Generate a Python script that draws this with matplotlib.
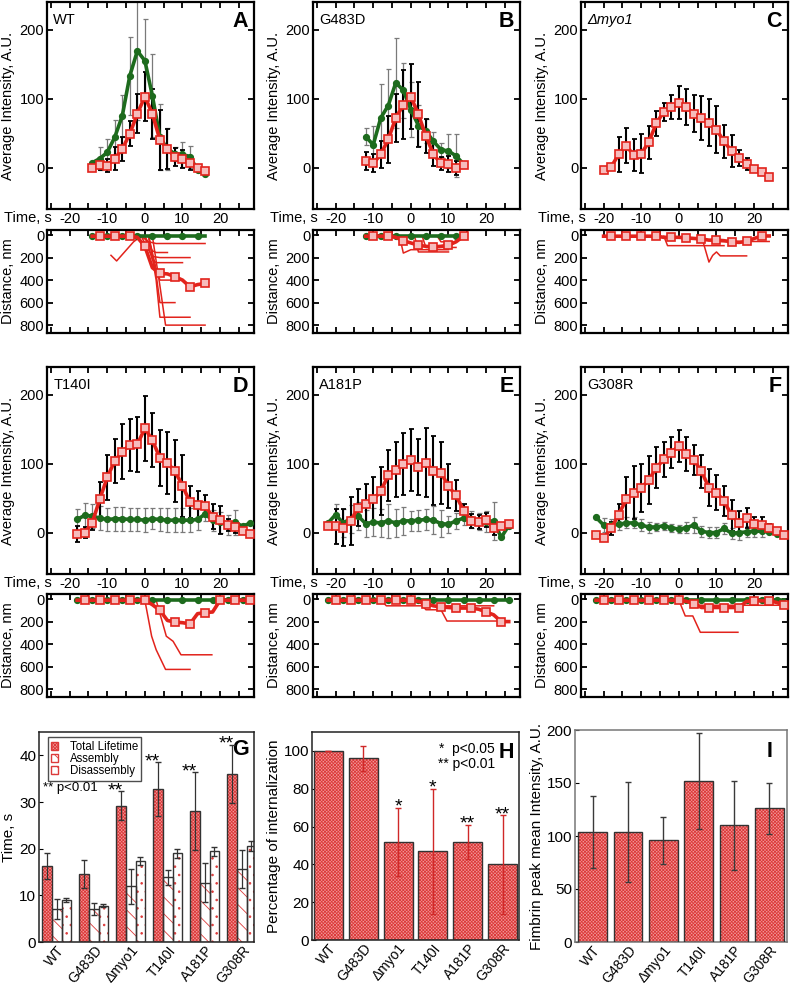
import numpy as np
import matplotlib
matplotlib.use('Agg')
import matplotlib.pyplot as plt
from matplotlib.ticker import MultipleLocator, FuncFormatter
from matplotlib.patches import Patch

plt.rcParams['font.family'] = ['Liberation Sans', 'DejaVu Sans']
plt.rcParams['font.size'] = 10
plt.rcParams['axes.unicode_minus'] = False
plt.rcParams['axes.linewidth'] = 1.6
plt.rcParams['hatch.linewidth'] = 0.6

GREEN = '#1d6b1d'
RED = '#e2231c'
PINK = '#f29898'
HATCH_RED = '#dc3a3a'

# ---------------- intensity traces (time in s, intensity in A.U.) ----------------
wt_t = [-14, -12, -10, -8, -6, -4, -2, 0, 2, 4, 6, 8, 10, 12, 14, 16]
wt_red = [-1, 4, 3, 13, 27, 49, 78, 103, 78, 40, 27, 15, 13, 6, -1, -5]
wt_red_err = [0, 8, 10, 17, 18, 18, 28, 35, 36, 44, 29, 13, 13, 10, 0, 0]
wt_grn = [7, 13, 22, 44, 75, 133, 169, 155, 104, 44, 27, 20, 19, 16, -4, -9]
wt_grn_err = [0, 17, 19, 25, 30, 57, 100, 60, 60, 48, 30, 10, 18, 16, 0, 0]

b_t = [-12, -10, -8, -6, -4, -2, 0, 2, 4, 6, 8, 10, 12, 14]
b_red = [9, 6, 19, 41, 72, 91, 103, 77, 46, 19, 6, 5, 0, 4]
b_red_err = [13, 13, 19, 34, 35, 50, 47, 47, 25, 16, 10, 12, 10, 0]
b_grn = [45, 33, 72, 90, 123, 112, 84, 61, 53, 38, 26, 24, 17, 5]
b_grn_err = [12, 27, 49, 53, 65, 40, 40, 30, 18, 13, 10, 24, 31, 0]

c_t = [-20, -18, -16, -14, -12, -10, -8, -6, -4, -2, 0, 2, 4, 6, 8, 10, 12, 14, 16, 18, 20, 22, 24]
c_red = [-3, 1, 19, 32, 18, 20, 37, 64, 81, 88, 94, 88, 78, 72, 65, 55, 38, 24, 14, 5, -2, -7, -14]
c_red_err = [0, 0, 26, 25, 23, 28, 24, 18, 13, 17, 24, 26, 27, 32, 34, 34, 24, 23, 11, 9, 0, 0, 0]

d_t = [-18, -16, -14, -12, -10, -8, -6, -4, -2, 0, 2, 4, 6, 8, 10, 12, 14, 16, 18, 20, 22, 24, 26, 28]
d_red = [-2, 0, 14, 48, 80, 104, 117, 127, 128, 151, 134, 108, 101, 89, 68, 44, 40, 39, 23, 18, 11, 8, 2, -2]
d_red_err = [12, 8, 10, 25, 33, 32, 40, 37, 40, 47, 39, 40, 45, 45, 45, 23, 20, 15, 18, 20, 8, 8, 0, 0]
d_grn = [19, 25, 24, 21, 19, 20, 20, 19, 19, 18, 20, 19, 18, 18, 18, 18, 19, 27, 18, 15, 11, 15, 9, 14]
d_grn_err = [15, 18, 17, 17, 17, 17, 17, 17, 17, 17, 15, 17, 17, 17, 17, 17, 15, 10, 15, 15, 15, 18, 0, 0]

e_t = [-22, -20, -18, -16, -14, -12, -10, -8, -6, -4, -2, 0, 2, 4, 6, 8, 10, 12, 14, 16, 18, 20, 22, 24, 26]
e_red = [10, 9, 7, 17, 36, 41, 48, 60, 83, 91, 100, 105, 95, 101, 90, 87, 67, 54, 32, 17, 15, 18, 7, 9, 13]
e_red_err = [0, 25, 27, 35, 27, 30, 33, 35, 37, 40, 45, 45, 40, 50, 50, 45, 32, 22, 10, 10, 10, 10, 10, 0, 0]
e_grn = [14, 26, 14, 20, 24, 13, 15, 14, 17, 14, 17, 17, 18, 19, 18, 13, 12, 17, 21, 19, 16, 16, 17, -7, 10]
e_grn_err = [0, 15, 20, 20, 20, 20, 20, 20, 25, 20, 20, 15, 15, 15, 20, 20, 12, 12, 10, 12, 12, 15, 28, 0, 0]

f_t = [-22, -20, -18, -16, -14, -12, -10, -8, -6, -4, -2, 0, 2, 4, 6, 8, 10, 12, 14, 16, 18, 20, 22, 24, 26, 28]
f_red = [-3, -8, 6, 26, 48, 58, 65, 76, 94, 106, 116, 126, 114, 105, 89, 65, 58, 46, 25, 14, 21, 13, 11, 6, 2, -3]
f_red_err = [0, 0, 10, 15, 32, 38, 35, 35, 30, 25, 22, 23, 25, 22, 24, 27, 25, 22, 22, 18, 15, 10, 12, 6, 0, 0]
f_grn = [22, 11, 11, 12, 14, 14, 11, 8, 8, 10, 7, 5, 7, 11, 2, 0, 0, 6, -1, 0, 1, 2, 2, 1, -2, -3]
f_grn_err = [0, 10, 8, 8, 8, 8, 8, 8, 6, 6, 6, 6, 8, 12, 8, 8, 8, 8, 8, 10, 8, 8, 8, 0, 0, 0]

# ---------------- distance traces (nm) ----------------
wt_grn_d = [10, 10, 10, 10, 10, 10, 10, 10, 10, 10, 10, 10, 10, 10, 10, 10]
wt_red_d = [10, 10, 10, 10, 10, 10, 20, 100, 290, 340, 345, 370, 400, 460, 440, 430]
wt_thin = [([-1, 1, 3, 16], [10, 60, 75, 75]),
           ([0, 2, 3, 6], [10, 140, 155, 155]),
           ([-1, 2, 4, 12], [10, 190, 200, 200]),
           ([0, 2, 3, 10], [10, 220, 245, 245]),
           ([-9, -7.5, -3, -1], [180, 230, 60, 10]),
           ([1, 3, 4, 8], [10, 300, 400, 400]),
           ([1, 3, 4, 8], [10, 350, 600, 600]),
           ([1, 3, 4, 12], [10, 400, 730, 730]),
           ([2, 4, 5.5, 16], [10, 450, 800, 800])]

b_grn_d = [10, 10, 10, 10, 10, 10, 10, 10, 10, 10, 10, 10, 10, 10]
b_red_d = [10, 10, 10, 10, 20, 50, 70, 90, 100, 105, 100, 90, 60, 10]
b_thin = [([-3, -2, 0, 10], [10, 160, 130, 130]),
          ([1, 2, 10], [10, 150, 150]),
          ([3, 4, 12], [10, 110, 110]),
          ([7, 8, 11], [10, 60, 60])]

c_red_d = [10, 10, 10, 10, 10, 10, 10, 10, 20, 20, 20, 25, 30, 35, 45, 45, 50, 60, 65, 57, 30, 8, 8]
c_thin = [([-4, -3, 12], [10, 94, 94]),
          ([6, 8, 9, 10, 11, 18], [10, 240, 180, 150, 185, 185]),
          ([9, 10, 24], [10, 57, 57])]

d_grn_d = [10, 10, 10, 10, 10, 10, 10, 10, 10, 10, 10, 10, 10, 10, 10, 10, 10, 10, 10, 10, 10, 10, 10, 10]
d_red_d = [10, 10, 10, 10, 10, 10, 10, 10, 10, 10, 50, 100, 190, 205, 210, 220, 130, 120, 115, 10, 10, 10, 10, 10]
d_thin = [([0, 1.8, 3, 5.5, 12], [10, 330, 450, 625, 625]),
          ([3, 5.7, 7.5, 9.6, 17.8], [10, 330, 375, 495, 495])]

e_grn_d = [10, 10, 10, 10, 10, 10, 10, 10, 10, 10, 10, 10, 10, 10, 10, 10, 10, 10, 10, 10, 10, 10, 10, 10, 10]
e_red_d = [10, 10, 10, 10, 10, 10, 10, 10, 10, 10, 10, 10, 20, 40, 60, 70, 75, 80, 80, 80, 90, 115, 140, 200, 200]
e_thin = [([-8, -6.5, 4, 22], [10, 60, 60, 60]),
          ([2, 4, 8, 9.6, 25.7], [10, 95, 95, 195, 195])]

f_grn_d = [10, 10, 10, 10, 10, 10, 10, 10, 10, 10, 10, 10, 10, 10, 10, 10, 10, 10, 10, 10, 10, 10, 10, 10, 10, 10]
f_red_d = [10, 10, 10, 10, 10, 10, 10, 10, 10, 10, 10, 10, 20, 40, 75, 75, 75, 75, 75, 75, 20, 15, 15, 15, 30, 55]
f_thin = [([0, 1.7, 3.7, 5.7, 15.7], [10, 150, 150, 295, 295]),
          ([4, 5, 28], [10, 55, 55])]

# ---------------- bar charts ----------------
strains = ['WT', 'G483D', 'Δmyo1', 'T140I', 'A181P', 'G308R']
life_total = [16.3, 14.5, 29.2, 32.8, 28.1, 36.0]
life_total_err = [2.8, 3.0, 3.1, 5.8, 8.3, 6.3]
life_asm = [7.1, 7.0, 11.9, 13.9, 12.7, 15.6]
life_asm_err = [2.1, 1.3, 3.7, 1.6, 4.2, 4.1]
life_dis = [9.0, 7.8, 17.4, 19.0, 19.4, 20.6]
life_dis_err = [0.5, 0.4, 0.8, 0.9, 1.0, 1.0]
life_stars = ['', '', '**', '**', '**', '**']

intern = [100, 96, 52, 47, 52, 40]
intern_err = [0, 6.6, 18, 33, 9, 26]
intern_stars = ['', '', '*', '*', '**', '**']

fim_peak = [104, 104, 96, 152, 110, 126]
fim_peak_err = [34, 47, 22, 45, 42, 24]

W, H = 792, 986
fig = plt.figure(figsize=(W / 100, H / 100), dpi=100)


def box(l, t, r, b):
    return fig.add_axes([l / W, 1 - b / H, (r - l) / W, (b - t) / H])


def time_axis(ax, labels=True):
    ax.set_xlim(-26, 29)
    ax.xaxis.set_major_locator(MultipleLocator(5))
    ax.xaxis.set_major_formatter(FuncFormatter(lambda v, p: '%d' % v if v % 10 == 0 else ''))
    ax.tick_params(direction='in', top=True, right=True, length=4, width=1.3,
                   labelsize=10.5, pad=2, labelbottom=labels)


def intensity_panel(ax, t, red, red_err, grn=None, grn_err=None, name='', letter='', italic=False):
    if grn is not None:
        ax.errorbar(t, grn, yerr=grn_err, fmt='none', ecolor='#7a7a7a', elinewidth=0.9,
                    capsize=1.8, capthick=0.9, zorder=1)
    ax.errorbar(t, red, yerr=red_err, fmt='none', ecolor='black', elinewidth=1.5,
                capsize=1.8, capthick=1.3, zorder=2)
    if grn is not None:
        ax.plot(t, grn, color=GREEN, lw=2.6, marker='o', ms=4.2, zorder=3)
    ax.plot(t, red, color=RED, lw=2.6, marker='s', ms=5.2, mfc='#f6bcbc', mec=RED, mew=1.2, zorder=4)
    time_axis(ax)
    ax.set_ylim(-60, 240)
    ax.set_yticks([0, 100, 200])
    ax.set_ylabel('Average Intensity, A.U.', fontsize=10.5, labelpad=3)
    ax.text(0.03, 0.945, name, transform=ax.transAxes, ha='left', va='top', fontsize=10.5,
            fontstyle='italic' if italic else 'normal')
    ax.text(0.97, 0.955, letter, transform=ax.transAxes, ha='right', va='top', fontsize=15.5,
            fontweight='bold')
    ax.text(0.025, -0.045, 'Time, s', transform=ax.transAxes, ha='right', va='center', fontsize=10.5)


def distance_panel(ax, rt, rd, thin, gt=None, gd=None):
    for tt, dd in thin:
        ax.plot(tt, dd, color=RED, lw=1.1, zorder=2)
    if gt is not None:
        ax.plot(gt, gd, color=GREEN, lw=2.6, marker='o', ms=4.2, markevery=(0, 2), zorder=3)
    ax.plot(rt, rd, color=RED, lw=2.6, marker='s', ms=5.2, mfc='#f6bcbc', mec=RED, mew=1.2,
            markevery=(1, 2), zorder=4)
    time_axis(ax, labels=False)
    ax.set_ylim(870, -45)
    ax.set_yticks([0, 200, 400, 600, 800])
    ax.set_ylabel('Distance, nm', fontsize=10.5, labelpad=3)


cols = [47, 313, 581]
rows = [2, 367]
drows = [230, 594]
PW, PH, DH = 207, 207, 103

panels = [
    (0, 0, wt_t, wt_red, wt_red_err, wt_grn, wt_grn_err, 'WT', 'A', False, wt_red_d, wt_thin, wt_grn_d),
    (1, 0, b_t, b_red, b_red_err, b_grn, b_grn_err, 'G483D', 'B', False, b_red_d, b_thin, b_grn_d),
    (2, 0, c_t, c_red, c_red_err, None, None, 'Δmyo1', 'C', True, c_red_d, c_thin, None),
    (0, 1, d_t, d_red, d_red_err, d_grn, d_grn_err, 'T140I', 'D', False, d_red_d, d_thin, d_grn_d),
    (1, 1, e_t, e_red, e_red_err, e_grn, e_grn_err, 'A181P', 'E', False, e_red_d, e_thin, e_grn_d),
    (2, 1, f_t, f_red, f_red_err, f_grn, f_grn_err, 'G308R', 'F', False, f_red_d, f_thin, f_grn_d),
]
for ci, ri, t, r, re, g, ge, name, let, it, rdist, thin, gdist in panels:
    l = cols[ci]
    ax = box(l, rows[ri], l + PW, rows[ri] + PH)
    intensity_panel(ax, t, r, re, g, ge, name, let, it)
    axd = box(l, drows[ri], l + PW, drows[ri] + DH)
    distance_panel(axd, t, rdist, thin, t if g is not None else None, gdist)


def hatched_bars(ax, x, h, w, face, hatch, hcolor, edge='#333333'):
    ax.bar(x, h, w, color=face, hatch=hatch, edgecolor=hcolor, lw=0, zorder=2)
    ax.bar(x, h, w, fill=False, edgecolor=edge, lw=1.0, zorder=3)


def stars(ax, xs, tops, labels, dx=0):
    for xx, top, s in zip(xs, tops, labels):
        if s:
            ax.annotate(s, (xx, top), xytext=(dx, -3), textcoords='offset points',
                        ha='center', va='baseline', fontsize=14)


def bar_axis(ax, ylabel, ylim, yticks, spine_color='#222222'):
    ax.set_ylim(*ylim)
    ax.set_yticks(yticks)
    ax.set_xticks(range(len(strains)))
    ax.set_xticklabels(strains, rotation=50, ha='right', rotation_mode='anchor', fontsize=10)
    ax.tick_params(axis='x', length=0, pad=1)
    ax.tick_params(axis='y', direction='in', length=3, labelsize=11, pad=2)
    ax.set_ylabel(ylabel, fontsize=11, labelpad=2)
    for s in ax.spines.values():
        s.set_linewidth(1.1)
        s.set_color(spine_color)


x = np.arange(len(strains))
TOTAL_HATCH = 'xxxxxxxxxx'

# G: lifetimes
axg = box(39, 732, 254, 942)
bw = 0.26
hatched_bars(axg, x - bw, life_total, bw, PINK, TOTAL_HATCH, HATCH_RED)
hatched_bars(axg, x, life_asm, bw, 'white', '\\\\', HATCH_RED)
hatched_bars(axg, x + bw, life_dis, bw, 'white', '..', HATCH_RED)
for xx, v, e in [(x - bw, life_total, life_total_err), (x, life_asm, life_asm_err), (x + bw, life_dis, life_dis_err)]:
    axg.errorbar(xx, v, yerr=e, fmt='none', ecolor='#333333', elinewidth=0.9, capsize=2, zorder=4)
stars(axg, x - bw, np.add(life_total, life_total_err), life_stars, dx=-4.5)
axg.set_xlim(-0.48, 5.33)
bar_axis(axg, 'Time, s', (0, 45), [0, 10, 20, 30, 40])
leg_handles = [Patch(facecolor=PINK, hatch=TOTAL_HATCH, edgecolor=HATCH_RED, label='Total Lifetime'),
               Patch(facecolor='white', hatch='\\\\', edgecolor=HATCH_RED, label='Assembly'),
               Patch(facecolor='white', hatch='..', edgecolor=HATCH_RED, label='Disassembly')]
leg = axg.legend(handles=leg_handles, loc='upper left', bbox_to_anchor=(0.03, 0.985), fontsize=8.3,
                 frameon=True, fancybox=False, edgecolor='#222222', handlelength=0.6, handleheight=0.7,
                 handletextpad=1.0, labelspacing=0.02, borderpad=0.3, borderaxespad=0.2)
leg.get_frame().set_linewidth(1.0)
axg.text(0.02, 0.735, '** p<0.01', transform=axg.transAxes, ha='left', va='center', fontsize=9.5)
axg.text(0.975, 0.965, 'G', transform=axg.transAxes, ha='right', va='top', fontsize=15.5, fontweight='bold')

# H: internalization
axh = box(312, 732, 519, 940)
hatched_bars(axh, x, intern, 0.83, PINK, TOTAL_HATCH, HATCH_RED)
axh.errorbar(x, intern, yerr=intern_err, fmt='none', ecolor='#d02828', elinewidth=1.0, capsize=2, zorder=4)
stars(axh, x, np.add(intern, intern_err), intern_stars)
axh.set_xlim(-0.47, 5.47)
bar_axis(axh, 'Percentage of internalization', (0, 110), [0, 20, 40, 60, 80, 100])
axh.text(0.885, 0.92, '*  p<0.05', transform=axh.transAxes, ha='right', va='center', fontsize=10)
axh.text(0.885, 0.845, '** p<0.01', transform=axh.transAxes, ha='right', va='center', fontsize=10)
axh.text(0.975, 0.95, 'H', transform=axh.transAxes, ha='right', va='top', fontsize=15.5, fontweight='bold')

# I: fimbrin peak intensity
axi = box(575, 730, 787, 942)
hatched_bars(axi, x, fim_peak, 0.82, PINK, TOTAL_HATCH, HATCH_RED)
axi.errorbar(x, fim_peak, yerr=fim_peak_err, fmt='none', ecolor='#3a3a3a', elinewidth=1.0, capsize=2, zorder=4)
axi.set_xlim(-0.5, 5.5)
bar_axis(axi, 'Fimbrin peak mean Intensity, A.U.', (0, 200), [0, 50, 100, 150, 200], spine_color='#777777')
axi.text(0.93, 0.95, 'I', transform=axi.transAxes, ha='right', va='top', fontsize=15.5, fontweight='bold')

fig.savefig('out.png', dpi=100)
